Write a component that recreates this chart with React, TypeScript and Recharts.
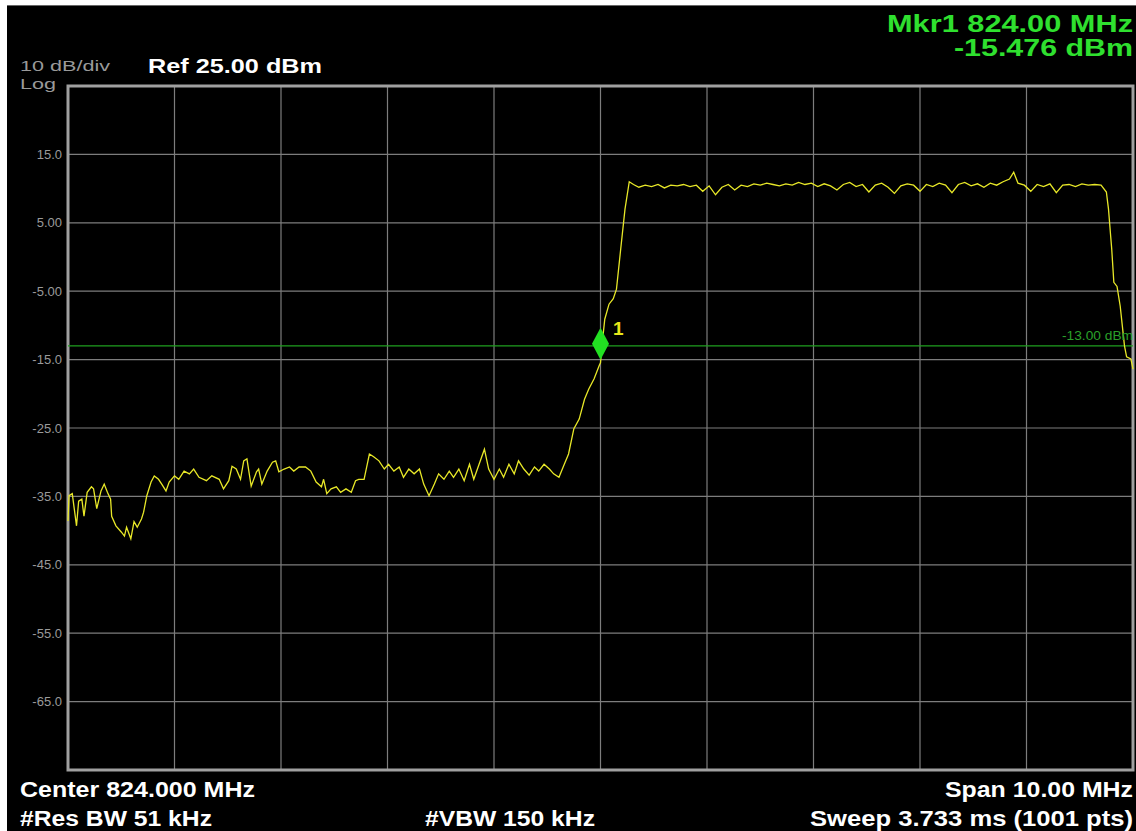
import {
  LineChart,
  Line,
  XAxis,
  YAxis,
  CartesianGrid,
  ReferenceLine,
  ReferenceDot,
  ReferenceArea,
} from "recharts";

// trace, MHz / dBm
const freqMHz = [
  819.0, 819.01, 819.04, 819.08, 819.1, 819.13, 819.15, 819.18, 819.22, 819.24,
  819.27, 819.31, 819.34, 819.37, 819.4, 819.41, 819.45, 819.5, 819.53, 819.55,
  819.59, 819.62, 819.65, 819.69, 819.71, 819.74, 819.78, 819.81, 819.85, 819.88,
  819.92, 819.95, 820.0, 820.04, 820.09, 820.14, 820.18, 820.23, 820.3, 820.35,
  820.42, 820.46, 820.51, 820.54, 820.58, 820.62, 820.65, 820.68, 820.72, 820.77,
  820.79, 820.82, 820.87, 820.92, 820.95, 820.98, 821.03, 821.08, 821.12, 821.17,
  821.23, 821.28, 821.33, 821.38, 821.4, 821.43, 821.47, 821.52, 821.56, 821.61,
  821.66, 821.7, 821.73, 821.78, 821.83, 821.87, 821.92, 821.97, 822.01, 822.06,
  822.11, 822.15, 822.2, 822.25, 822.3, 822.34, 822.39, 822.44, 822.48, 822.53,
  822.58, 822.62, 822.67, 822.72, 822.77, 822.81, 822.86, 822.91, 822.95, 823.0,
  823.05, 823.09, 823.14, 823.19, 823.23, 823.28, 823.33, 823.38, 823.42, 823.47,
  823.52, 823.56, 823.61, 823.66, 823.7, 823.75, 823.8, 823.85, 823.89, 823.94,
  823.99, 824.0, 824.01, 824.04, 824.08, 824.12, 824.15, 824.19, 824.23, 824.27,
  824.31, 824.36, 824.42, 824.48, 824.54, 824.6, 824.66, 824.72, 824.78, 824.84,
  824.9, 824.96, 825.02, 825.08, 825.14, 825.2, 825.26, 825.32, 825.38, 825.44,
  825.5, 825.56, 825.62, 825.68, 825.74, 825.8, 825.86, 825.92, 825.98, 826.04,
  826.1, 826.16, 826.22, 826.28, 826.34, 826.4, 826.46, 826.52, 826.58, 826.64,
  826.7, 826.76, 826.82, 826.88, 826.94, 827.0, 827.06, 827.12, 827.18, 827.24,
  827.3, 827.36, 827.42, 827.48, 827.54, 827.6, 827.66, 827.72, 827.78, 827.84,
  827.88, 827.92, 827.98, 828.04, 828.1, 828.16, 828.22, 828.28, 828.34, 828.4,
  828.46, 828.52, 828.58, 828.64, 828.7, 828.75, 828.77, 828.79, 828.8, 828.82,
  828.85, 828.88, 828.9, 828.92, 828.94, 828.98, 829.0,
];

const levelDbm = [
  -38.6, -34.9, -34.6, -39.3, -35.7, -35.4, -37.9, -34.4, -33.6, -33.9,
  -36.8, -34.2, -33.2, -34.4, -35.4, -37.9, -39.3, -40.2, -40.8, -39.5,
  -41.2, -38.7, -39.5, -38.3, -37.3, -34.9, -32.9, -32.0, -32.5, -33.2,
  -34.2, -32.9, -32.0, -32.5, -31.3, -31.7, -31.0, -32.2, -32.7, -32.0,
  -32.5, -33.9, -32.7, -30.6, -31.0, -32.5, -29.8, -29.5, -33.5, -31.4,
  -31.0, -33.2, -31.3, -30.0, -29.8, -31.4, -31.0, -30.7, -31.3, -30.7,
  -30.7, -31.3, -32.9, -33.6, -32.5, -34.6, -33.9, -33.6, -34.4, -33.9,
  -34.4, -32.7, -32.5, -32.5, -28.8, -29.2, -29.8, -31.0, -30.3, -31.3,
  -30.7, -32.2, -31.0, -31.7, -31.0, -33.2, -34.9, -33.2, -31.7, -32.5,
  -31.3, -32.2, -31.0, -32.7, -30.3, -32.5, -30.3, -28.1, -31.0, -32.5,
  -31.0, -32.2, -30.3, -31.7, -29.8, -31.0, -31.9, -30.7, -31.3, -30.3,
  -31.0, -31.7, -32.2, -30.3, -28.8, -25.1, -23.7, -20.8, -19.3, -17.8,
  -15.8, -15.476, -13.5, -9.1, -6.9, -6.1, -4.7, 1.2, 7.0, 11.0,
  10.6, 10.2, 10.5, 10.3, 10.6, 10.1, 10.5, 10.4, 10.6, 10.3,
  10.5, 9.6, 10.4, 9.1, 10.2, 10.6, 9.8, 10.5, 10.3, 10.7,
  10.5, 10.8, 10.6, 10.4, 10.7, 10.5, 10.9, 10.6, 10.8, 10.3,
  10.7, 10.4, 9.8, 10.6, 10.9, 10.3, 10.6, 9.5, 10.5, 10.8,
  10.2, 9.3, 10.4, 10.7, 10.5, 9.6, 10.6, 10.3, 10.8, 10.5,
  9.4, 10.6, 10.9, 10.4, 10.7, 10.2, 10.8, 10.5, 11.0, 11.4,
  12.4, 10.8, 10.5, 9.6, 10.6, 10.3, 10.7, 9.4, 10.5, 10.6,
  10.3, 10.7, 10.5, 10.6, 10.5, 9.5, 7.0, 3.1, 1.2, -3.7,
  -4.3, -7.2, -10.1, -13.0, -14.6, -14.9, -16.4,
];

const xTicks = [820, 821, 822, 823, 824, 825, 826, 827, 828];
const yTicks = [15, 5, -5, -15, -25, -35, -45, -55, -65];
const limitDbm = -13;
const markerFreq = 824;
const markerDbm = -15.476;

const trace = freqMHz.map((f, i) => ({ f, dbm: levelDbm[i] }));

const FONT = "'Liberation Sans', Arial, sans-serif";
const GREEN = "#2fe02f";

function fmtTick(v: number) {
  return Math.abs(v) < 10 ? v.toFixed(2) : v.toFixed(1);
}

function YTick(props: any) {
  const { y, payload } = props;
  return (
    <text x={62} y={y} dy={4.5} textAnchor="end" fill="#9a9a9a" fontSize={13} fontFamily={FONT}>
      {fmtTick(payload.value)}
    </text>
  );
}

function Diamond(props: any) {
  const { cx, cy } = props;
  const c = cy - 19;
  return (
    <polygon
      points={`${cx},${c - 16} ${cx + 8.5},${c} ${cx},${c + 16} ${cx - 8.5},${c}`}
      fill="#22e022"
    />
  );
}

export default function App() {
  return (
    <div style={{ position: "absolute", left: 0, top: 0, width: 1136, height: 831, background: "#fff", overflow: "hidden" }}>
      <div style={{ position: "absolute", left: 7, top: 5, width: 1129, height: 826, background: "#000", borderTop: "1px solid #666" }} />
      <div style={{ position: "absolute", left: 0, top: 0 }}>
        <LineChart width={1136} height={831} data={trace} margin={{ top: 86, right: 3, bottom: 61, left: 0 }}>
          <CartesianGrid stroke="#7d7d7d" strokeWidth={1.2} fill="none" />
          <XAxis dataKey="f" type="number" domain={[819, 829]} ticks={xTicks} hide />
          <YAxis
            type="number"
            domain={[-75, 25]}
            ticks={yTicks}
            width={68}
            interval={0}
            tick={<YTick />}
            tickLine={false}
            axisLine={false}
          />
          <ReferenceArea x1={819} x2={829} y1={-75} y2={25} fill="#000" fillOpacity={0} stroke="#a0a0a0" strokeWidth={3} />
          <ReferenceLine y={limitDbm} stroke="#1f9f1f" strokeWidth={1.2} />
          <Line dataKey="dbm" type="linear" stroke="#e8e828" strokeWidth={1.3} dot={false} isAnimationActive={false} />
          <ReferenceDot x={markerFreq} y={markerDbm} shape={<Diamond />} />
        </LineChart>
      </div>
      <svg width={1136} height={831} style={{ position: "absolute", left: 0, top: 0, pointerEvents: "none" }} fontFamily={FONT}>
        <text x={20} y={71} fill="#9a9a9a" fontSize={15} textLength={90} lengthAdjust="spacingAndGlyphs">10 dB/div</text>
        <text x={20} y={89} fill="#9a9a9a" fontSize={15} textLength={36} lengthAdjust="spacingAndGlyphs">Log</text>
        <text x={148} y={73} fill="#fff" fontSize={21} fontWeight="bold" textLength={174} lengthAdjust="spacingAndGlyphs">Ref 25.00 dBm</text>
        <text x={1133} y={32} fill={GREEN} fontSize={23} fontWeight="bold" textAnchor="end" textLength={246} lengthAdjust="spacingAndGlyphs">Mkr1 824.00 MHz</text>
        <text x={1133} y={56} fill={GREEN} fontSize={23} fontWeight="bold" textAnchor="end" textLength={179} lengthAdjust="spacingAndGlyphs">-15.476 dBm</text>
        <text x={613} y={335} fill="#e6e61a" fontSize={19} fontWeight="bold">1</text>
        <text x={1133} y={340} fill="#2aa02a" fontSize={12} textAnchor="end" textLength={71} lengthAdjust="spacingAndGlyphs">-13.00 dBm</text>
        <text x={20} y={797} fill="#fff" fontSize={22} fontWeight="bold" textLength={235} lengthAdjust="spacingAndGlyphs">Center 824.000 MHz</text>
        <text x={20} y={826} fill="#fff" fontSize={22} fontWeight="bold" textLength={192} lengthAdjust="spacingAndGlyphs">#Res BW 51 kHz</text>
        <text x={425} y={826} fill="#fff" fontSize={22} fontWeight="bold" textLength={170} lengthAdjust="spacingAndGlyphs">#VBW 150 kHz</text>
        <text x={1133} y={797} fill="#fff" fontSize={22} fontWeight="bold" textAnchor="end" textLength={188} lengthAdjust="spacingAndGlyphs">Span 10.00 MHz</text>
        <text x={1133} y={826} fill="#fff" fontSize={22} fontWeight="bold" textAnchor="end" textLength={323} lengthAdjust="spacingAndGlyphs">Sweep  3.733 ms (1001 pts)</text>
      </svg>
    </div>
  );
}
